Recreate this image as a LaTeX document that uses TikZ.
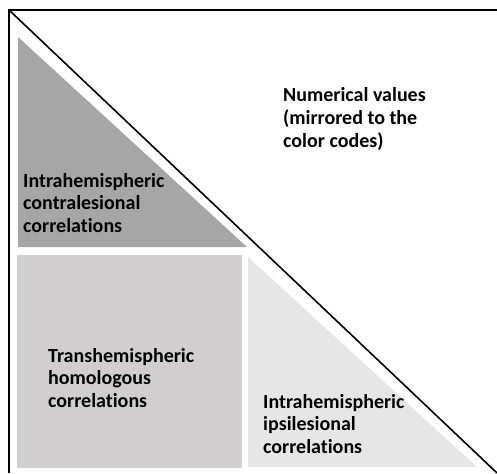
\documentclass[tikz,border=0pt]{standalone}
\usepackage{fontspec}
\setmainfont{Carlito}[RawFeature={-liga}]
\usepackage{tikz}
\definecolor{contragray}{rgb}{0.65, 0.65, 0.65}
\definecolor{homogray}{rgb}{0.816, 0.808, 0.808}
\definecolor{ipsigray}{rgb}{0.906, 0.902, 0.902}

\begin{document}
\begin{tikzpicture}[x=1pt, y=-1pt,
    label/.style={align=left, anchor=base west, inner sep=0pt,
      font=\fontsize{20}{22.5}\selectfont\bfseries}]
    \useasboundingbox (0,0) rectangle (497,473);
    \fill[contragray] (18,37) -- (18,247) -- (247,247) -- cycle;
    \fill[homogray] (17,255) rectangle (242,468);
    \fill[ipsigray] (248,257) -- (248,467) -- (477,467) -- cycle;
    \draw[line width=1.6pt] (497,10) -- (9,10) -- (9,473);
    \draw[line width=1.6pt] (9,10) -- (497,473);
    % anchors sit on the baseline of the last line
    \node[label] (values) at (283,147) {Numerical values\\(mirrored to the\\color codes)};
    \node[label] (contra) at (23,232) {Intrahemispheric\\contralesional\\correlations};
    \node[label] (homo) at (48,407) {Transhemispheric\\homologous\\correlations};
    \node[label] (ipsi) at (263,453) {Intrahemispheric\\ipsilesional\\correlations};
  \end{tikzpicture}
\end{document}
